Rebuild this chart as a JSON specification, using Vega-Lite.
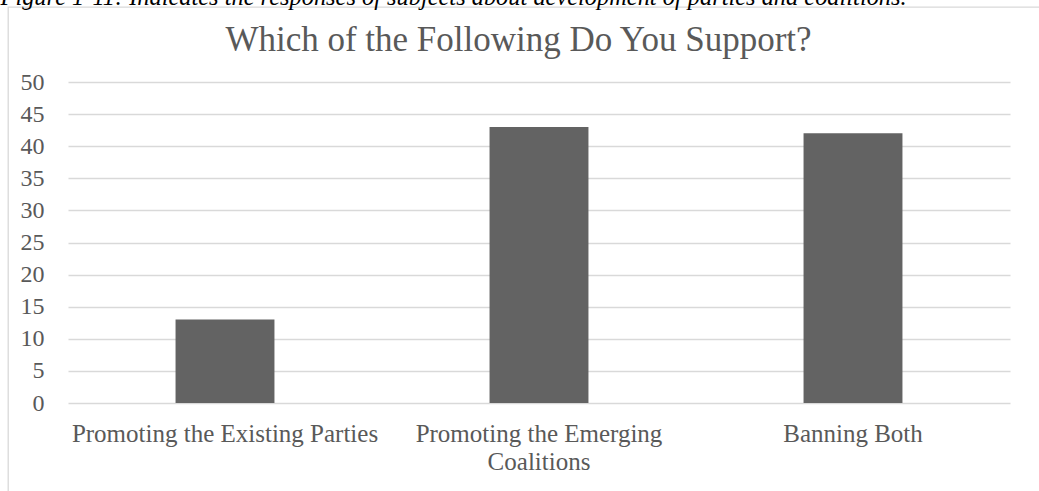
{
  "$schema": "https://vega.github.io/schema/vega-lite/v6.json",
  "width": 1051,
  "height": 504,
  "autosize": {"type": "none"},
  "padding": {"left": 8, "top": 7, "right": -20, "bottom": -20},
  "background": "white",
  "title": {
    "text": "Which of the Following Do You Support?",
    "font": "Liberation Serif",
    "fontSize": 35,
    "fontWeight": "normal",
    "color": "#595959",
    "anchor": "middle",
    "frame": "group",
    "baseline": "alphabetic",
    "offset": 0,
    "dx": -15,
    "dy": 102
  },
  "data": {
    "values": [
      {"option": "Promoting the Existing Parties", "count": 13},
      {"option": "Promoting the Emerging Coalitions", "count": 43},
      {"option": "Banning Both", "count": 42}
    ]
  },
  "mark": {"type": "bar", "fill": "#636363"},
  "encoding": {
    "x": {
      "field": "option",
      "type": "nominal",
      "sort": null,
      "scale": {"range": [60, 1002], "paddingInner": 0.685, "paddingOuter": 0.3425},
      "axis": {
        "orient": "bottom",
        "offset": -108,
        "domain": false,
        "ticks": false,
        "tickSize": 0,
        "grid": false,
        "labelAngle": 0,
        "labelFont": "Liberation Serif",
        "labelFontSize": 25,
        "labelColor": "#595959",
        "labelPadding": 18,
        "labelLimit": 0,
        "labelOverlap": false,
        "labelBound": false,
        "labelLineHeight": 28.5,
        "labelExpr": "datum.label == 'Promoting the Emerging Coalitions' ? ['Promoting the Emerging', 'Coalitions'] : datum.label",
        "title": "Figure 1-11: Indicates the responses of subjects about development of parties and coalitions.",
        "titleFont": "Liberation Serif",
        "titleFontStyle": "italic",
        "titleFontWeight": "normal",
        "titleFontSize": 24.4,
        "titleColor": "black",
        "titleAlign": "left",
        "titleBaseline": "alphabetic",
        "titleLimit": 2000,
        "titleX": -8,
        "titleY": -399
      }
    },
    "y": {
      "field": "count",
      "type": "quantitative",
      "scale": {"domain": [0, 50], "range": [396, 75], "nice": false},
      "axis": {
        "values": [0, 5, 10, 15, 20, 25, 30, 35, 40, 45, 50],
        "domain": false,
        "ticks": false,
        "tickSize": 0,
        "labelPadding": -36,
        "labelFont": "Liberation Serif",
        "labelFontSize": 24,
        "labelColor": "#595959",
        "gridColor": "#d9d9d9",
        "gridWidth": 1.3,
        "title": null
      }
    }
  },
  "config": {"view": {"stroke": "#d9d9d9", "strokeWidth": 1.3}}
}
